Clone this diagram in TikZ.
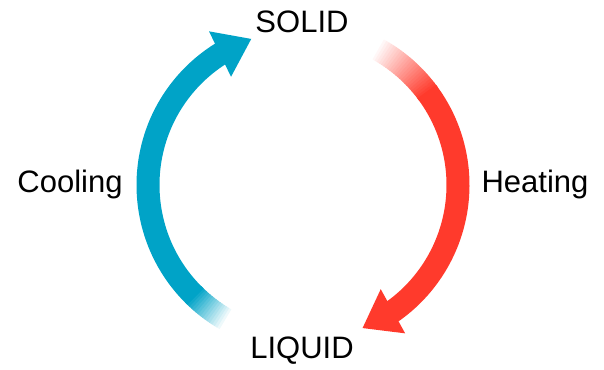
\documentclass[tikz,border=0pt]{standalone}
\usepackage{fontspec}
\setmainfont{Liberation Sans}
\usetikzlibrary{arrows.meta,bending}
\definecolor{coolblue}{RGB}{0,163,199}
\definecolor{heatred}{RGB}{255,58,44}

\begin{document}
\begin{tikzpicture}[x=1pt, y=1pt, >=Stealth,
  every node/.style={font=\fontsize{31}{36}\selectfont},
  band/.style={line width=23pt},
  head/.style={-{Triangle[length=35pt,width=48pt]}}]
\useasboundingbox (0,0) rectangle (604,369);
\coordinate (c) at (303,184);
\node[anchor=base] (solid) at (302,336) {SOLID};
\node[anchor=base] (liquid) at (302,11) {LIQUID};
\node[anchor=base] (cooling) at (70,176) {Cooling};
\node[anchor=base] (heating) at (535,176) {Heating};
% cooling band, fading in at the bottom
\foreach \i in {0,...,14}{
  \pgfmathsetmacro{\p}{100*(\i+1)/15}
  \draw[band, coolblue!\p!white] ([shift={(240-\i:155)}]c) arc[start angle=240-\i, end angle=238.8-\i, radius=155];
}
\draw[band, head, coolblue] ([shift={(226:155)}]c) arc[start angle=226, end angle=109.4, radius=155];
% heating band, fading in at the top
\foreach \i in {0,...,24}{
  \pgfmathsetmacro{\p}{100*(\i+1)/25}
  \draw[band, heatred!\p!white] ([shift={(61-\i:155)}]c) arc[start angle=61-\i, end angle=59.8-\i, radius=155];
}
\draw[band, head, heatred] ([shift={(37:155)}]c) arc[start angle=37, end angle=-67.5, radius=155];
\end{tikzpicture}
\end{document}
